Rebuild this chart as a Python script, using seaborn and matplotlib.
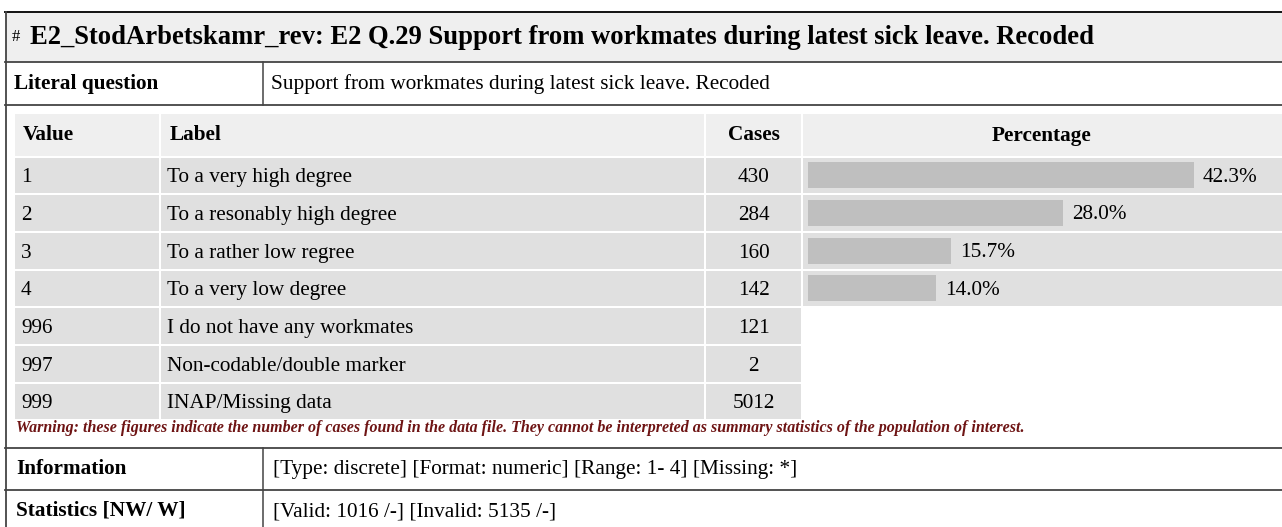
import numpy as np
import pandas as pd
import matplotlib.pyplot as plt
import seaborn as sns
from matplotlib.patches import Rectangle

values = ["1", "2", "3", "4", "996", "997", "999"]
labels = ["To a very high degree", "To a resonably high degree", "To a rather low regree",
          "To a very low degree", "I do not have any workmates", "Non-codable/double marker",
          "INAP/Missing data"]
cases = [430, 284, 160, 142, 121, 2, 5012]
pct_labels = ["To a very high degree", "To a resonably high degree",
              "To a rather low regree", "To a very low degree"]
pct_values = [42.3, 28.0, 15.7, 14.0]

title_txt = "E2_StodArbetskamr_rev: E2 Q.29 Support from workmates during latest sick leave. Recoded"
question_txt = "Support from workmates during latest sick leave. Recoded"
info_txt = "[Type: discrete] [Format: numeric] [Range: 1- 4] [Missing: *]"
stats_txt = "[Valid: 1016 /-] [Invalid: 5135 /-]"
warning_txt = ("Warning: these figures indicate the number of cases found in the data file. "
               "They cannot be interpreted as summary statistics of the population of interest.")

# Layout (pixel units)
W, H = 1282, 527
HEAD_BG = "#efefef"
ROW_BG = "#e0e0e0"
BAR_C = "#bfbfbf"
LINE_C = "#444444"
FS = 15.3

plt.rcParams['font.family'] = ['Liberation Serif', 'DejaVu Serif']

fig = plt.figure(figsize=(W / 100, H / 100), dpi=100)
ax = fig.add_axes([0, 0, 1, 1])
ax.set_xlim(0, W)
ax.set_ylim(H, 0)
ax.axis('off')


def cell(x0, x1, y0, y1, color):
    ax.add_patch(Rectangle((x0, y0), x1 - x0, y1 - y0, facecolor=color, edgecolor='none', zorder=1))


def txt(x, y, s, **kw):
    # y is the text baseline in pixels
    kw.setdefault('fontsize', FS)
    ax.text(x, y, s, va='baseline', **kw)


# title bar
cell(6, W, 13, 61.5, HEAD_BG)
txt(12, 41, "#", fontsize=12)
txt(30, 43.5, title_txt, fontsize=19.2, fontweight='bold')

# literal question row
txt(14, 88.5, "Literal question", fontweight='bold')
txt(271, 88.5, question_txt)

# inner table
cols = [15, 160, 705, 802, W]
cell(cols[0], cols[1] - 1, 114, 156, HEAD_BG)
cell(cols[1] + 1, cols[2] - 1, 114, 156, HEAD_BG)
cell(cols[2] + 1, cols[3] - 1, 114, 156, HEAD_BG)
cell(cols[3] + 1, cols[4], 114, 156, HEAD_BG)
txt(23, 140.5, "Value", fontweight='bold')
txt(170, 140.5, "Label", fontweight='bold')
txt(753.5, 140.5, "Cases", fontweight='bold', ha='center')
txt(1042, 140.5, "Percentage", fontweight='bold', ha='center')

pitch = 37.7
for i, (v, lab, c) in enumerate(zip(values, labels, cases)):
    y0 = 157.5 + pitch * i
    y1 = y0 + pitch - 2
    yb = (y0 + y1) / 2 + 6.8
    cell(cols[0], cols[1] - 1, y0, y1, ROW_BG)
    cell(cols[1] + 1, cols[2] - 1, y0, y1, ROW_BG)
    cell(cols[2] + 1, cols[3] - 1, y0, y1, ROW_BG)
    if i < len(pct_values):
        cell(cols[3] + 1, cols[4], y0, y1, ROW_BG)
    txt(21, yb, v)
    txt(167, yb, lab)
    txt(753.5, yb, str(c), ha='center')

txt(16, 432, warning_txt, fontsize=11.5, fontweight='bold', style='italic', color='#6e1414')

# info / statistics rows
txt(16, 474, "Information", fontweight='bold')
txt(273, 474, info_txt)
txt(16, 516, "Statistics [NW/ W]", fontweight='bold')
txt(273, 516, stats_txt)

# borders
ax.plot([5, W], [12, 12], color="#111111", lw=1.4, zorder=3)
ax.plot([5.5, 5.5], [12, H], color=LINE_C, lw=1.3, zorder=3)
for yy in [62, 104.5, 447.5, 490]:
    ax.plot([5, W], [yy, yy], color=LINE_C, lw=1.3, zorder=3)
ax.plot([263, 263], [62, 104.5], color=LINE_C, lw=1.1, zorder=3)
ax.plot([263, 263], [447.5, H], color=LINE_C, lw=1.1, zorder=3)

# percentage bars
px_per_pct = 9.12
bx0, bx1 = 808, W
by0 = 156.5
by1 = by0 + pitch * len(pct_values)
bax = fig.add_axes([bx0 / W, 1 - by1 / H, (bx1 - bx0) / W, (by1 - by0) / H])
df = pd.DataFrame({"label": pct_labels, "pct": pct_values})
sns.barplot(data=df, x="pct", y="label", orient="h", color=BAR_C, saturation=1,
            width=26 / pitch, ax=bax)
bax.set_xlim(0, (bx1 - bx0) / px_per_pct)
bax.set_ylim(len(pct_values) - 0.5, -0.5)
blabels = bax.bar_label(bax.containers[0], labels=[f"{p:.1f}%" for p in pct_values],
                        padding=6.5, fontsize=FS)
for t in blabels:
    t.set_va('baseline')
    t.xyann = (6.5, -6.3 * 0.72)
bax.axis('off')
bax.patch.set_alpha(0)

fig.savefig("out.png", dpi=100)
